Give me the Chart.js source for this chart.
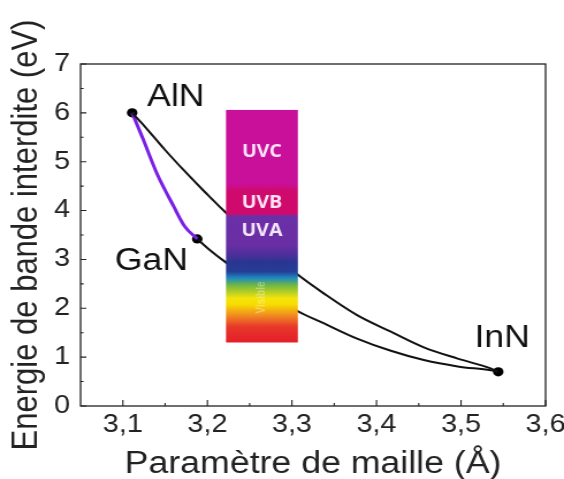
<!DOCTYPE html>
<html>
<head>
<meta charset="utf-8">
<script src="https://cdn.jsdelivr.net/npm/chart.js@4.4.1/dist/chart.umd.min.js"></script>
<style>
    html, body { margin: 0; padding: 0; background: #fff; overflow: hidden; }
    /* the original figure is stretched horizontally, so is this one */
    #wrap { width: 490px; height: 479px; transform: scaleX(1.151); transform-origin: 0 0; }
</style>
</head>
<body>
<div id="wrap"><canvas id="chart" width="490" height="479"></canvas></div>
<script>
// Ticks
const xTicks = [3.1, 3.2, 3.3, 3.4, 3.5, 3.6];
const yTicks = [0, 1, 2, 3, 4, 5, 6, 7];

// Binary compounds (lattice parameter, band gap)
const compoundNames = ['AlN', 'GaN', 'InN'];
const compoundX = [3.111, 3.188, 3.544];
const compoundY = [6.00, 3.42, 0.70];

// AlInN curve
const alinnX = [3.111, 3.126, 3.150, 3.174, 3.197, 3.221, 3.306, 3.338, 3.377, 3.417, 3.456, 3.496, 3.535, 3.544];
const alinnY = [6.00, 5.72, 5.24, 4.79, 4.38, 3.97, 2.70, 2.30, 1.86, 1.52, 1.20, 0.97, 0.77, 0.70];

// InGaN curve
const inganX = [3.188, 3.201, 3.221, 3.306, 3.338, 3.377, 3.417, 3.456, 3.496, 3.535, 3.544];
const inganY = [3.42, 3.22, 2.95, 1.95, 1.69, 1.38, 1.13, 0.94, 0.81, 0.73, 0.70];

// AlGaN curve
const alganX = [3.111, 3.124, 3.140, 3.160, 3.173, 3.188];
const alganY = [6.00, 5.46, 4.77, 4.09, 3.68, 3.42];

// Spectrum bar (x range, energy stops and colours)
const barX = [3.222, 3.307];
const spectrumE = [6.06, 4.55, 4.40, 3.91, 3.91, 3.29, 3.08, 2.95, 2.75, 2.62, 2.47, 2.20, 2.08, 1.85, 1.62, 1.30];
const spectrumC = ['#c8109a', '#c8109a', '#d00a6c', '#d00a6c', '#6a30a8', '#6a2ea4', '#4a2f9a', '#2b3592',
                   '#263d96', '#1e8ac0', '#72b843', '#f5e40a', '#f7dd00', '#f08a22', '#e8372a', '#e41e2b'];
const bandNames = ['UVC', 'UVB', 'UVA'];
const bandE = [5.20, 4.15, 3.58];

const FONT = 'Arial, "Liberation Sans", sans-serif';
Chart.defaults.font.family = FONT;

function toXY(xs, ys) {
    return xs.map((x, i) => ({ x: x, y: ys[i] }));
}

function comma(v, d) {
    return v.toFixed(d).replace('.', ',');
}

// label placement next to each compound dot
const labelPlace = {
    AlN: { dx: 13, dy: -7, align: 'left' },
    GaN: { dx: -8, dy: 31, align: 'right' },
    InN: { dx: 3.5, dy: -25, align: 'center' }
};

const decorPlugin = {
    id: 'decor',
    afterDatasetsDraw(chart) {
        const { ctx, chartArea: a, scales: { x, y } } = chart;
        ctx.save();

        // spectrum bar
        const left = x.getPixelForValue(barX[0]);
        const right = x.getPixelForValue(barX[1]);
        const top = y.getPixelForValue(spectrumE[0]);
        const bottom = y.getPixelForValue(spectrumE[spectrumE.length - 1]);
        const grad = ctx.createLinearGradient(0, top, 0, bottom);
        spectrumE.forEach((e, i) => {
            grad.addColorStop((y.getPixelForValue(e) - top) / (bottom - top), spectrumC[i]);
        });
        ctx.fillStyle = grad;
        ctx.fillRect(left, top, right - left, bottom - top);

        const cx = (left + right) / 2;
        ctx.fillStyle = 'rgba(255,245,255,0.93)';
        ctx.font = 'bold 17px "Open Sans", ' + FONT;
        ctx.textAlign = 'center';
        ctx.textBaseline = 'middle';
        bandNames.forEach((n, i) => ctx.fillText(n, cx, y.getPixelForValue(bandE[i])));

        ctx.save();
        ctx.translate(cx, y.getPixelForValue(2.22));
        ctx.rotate(-Math.PI / 2);
        ctx.fillStyle = 'rgba(255,255,255,0.35)';
        ctx.font = 'bold 10px ' + FONT;
        ctx.fillText('Visible', 0, 0);
        ctx.restore();

        // frame
        ctx.strokeStyle = '#222';
        ctx.lineWidth = 1.3;
        ctx.strokeRect(a.left, a.top, a.right - a.left, a.bottom - a.top);

        // inside ticks, major and minor
        ctx.lineWidth = 1.1;
        ctx.beginPath();
        xTicks.forEach((v, i) => {
            const px = x.getPixelForValue(v);
            ctx.moveTo(px, a.bottom); ctx.lineTo(px, a.bottom - 6);
            const m = i === 0 ? v - 0.05 : (v + xTicks[i - 1]) / 2;
            const pm = x.getPixelForValue(m);
            if (pm > a.left + 1) { ctx.moveTo(pm, a.bottom); ctx.lineTo(pm, a.bottom - 3); }
        });
        yTicks.forEach((v, i) => {
            const py = y.getPixelForValue(v);
            ctx.moveTo(a.left, py); ctx.lineTo(a.left + 5, py);
            if (i > 0) {
                const pm = y.getPixelForValue((v + yTicks[i - 1]) / 2);
                ctx.moveTo(a.left, pm); ctx.lineTo(a.left + 2.6, pm);
            }
        });
        ctx.stroke();

        // compound labels
        ctx.fillStyle = '#111';
        ctx.font = '31px ' + FONT;
        ctx.textBaseline = 'alphabetic';
        compoundNames.forEach((n, i) => {
            const p = labelPlace[n];
            ctx.textAlign = p.align;
            ctx.fillText(n, x.getPixelForValue(compoundX[i]) + p.dx, y.getPixelForValue(compoundY[i]) + p.dy);
        });
        ctx.restore();
    }
};

new Chart(document.getElementById('chart'), {
    type: 'scatter',
    data: {
        datasets: [{
            label: 'AlInN',
            data: toXY(alinnX, alinnY),
            showLine: true,
            borderColor: '#111',
            borderWidth: 2,
            pointRadius: 0,
            cubicInterpolationMode: 'monotone'
        }, {
            label: 'InGaN',
            data: toXY(inganX, inganY),
            showLine: true,
            borderColor: '#111',
            borderWidth: 2,
            pointRadius: 0,
            cubicInterpolationMode: 'monotone'
        }, {
            label: 'AlGaN',
            data: toXY(alganX, alganY),
            showLine: true,
            borderColor: '#7a1fe6',
            borderWidth: 3,
            pointRadius: 0,
            cubicInterpolationMode: 'monotone'
        }, {
            label: 'Composés binaires',
            data: toXY(compoundX, compoundY),
            showLine: false,
            pointRadius: 4.6,
            pointBackgroundColor: '#000',
            pointBorderWidth: 0
        }]
    },
    options: {
        responsive: false,
        animation: false,
        events: [],
        layout: { padding: { left: 0, right: 16, top: 64, bottom: 0 } },
        plugins: {
            legend: { display: false },
            tooltip: { enabled: false }
        },
        scales: {
            x: {
                type: 'linear',
                min: 3.05,
                max: 3.6,
                grid: { display: false, drawTicks: false },
                border: { display: false },
                afterBuildTicks: s => { s.ticks = xTicks.map(v => ({ value: v })); },
                afterFit: s => { s.height = 73; s.paddingLeft = 0; s.paddingRight = 0; },
                ticks: {
                    padding: 4,
                    color: '#222',
                    font: { size: 25 },
                    callback: v => comma(v, 1)
                },
                title: {
                    display: true,
                    text: 'Paramètre de maille (Å)',
                    color: '#222',
                    font: { size: 31 },
                    padding: { top: 0, bottom: -4 }
                }
            },
            y: {
                type: 'linear',
                min: 0,
                max: 7,
                grid: { display: false, drawTicks: false },
                border: { display: false },
                afterBuildTicks: s => { s.ticks = yTicks.map(v => ({ value: v })); },
                afterFit: s => { s.width = 70; s.paddingTop = 0; s.paddingBottom = 0; },
                ticks: {
                    padding: 9,
                    color: '#222',
                    font: { size: 25 },
                    callback: v => String(v)
                },
                title: {
                    display: true,
                    text: 'Energie de bande interdite (eV)',
                    color: '#222',
                    font: { size: 31 },
                    padding: { top: 5, bottom: 0 }
                }
            }
        }
    },
    plugins: [decorPlugin]
});
</script>
</body>
</html>
